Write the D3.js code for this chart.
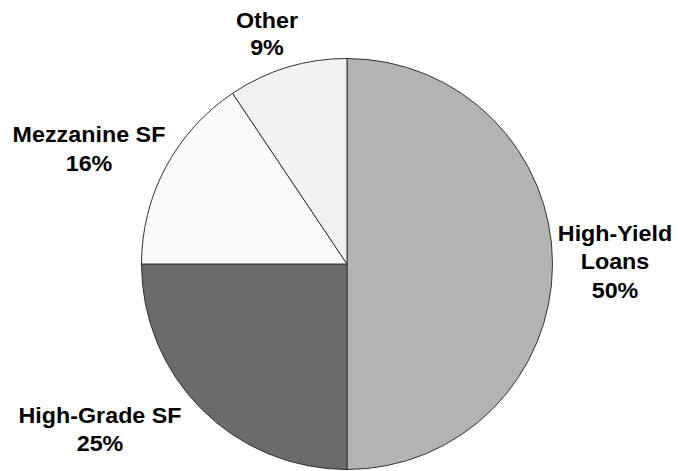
<!DOCTYPE html>
<html>
<head>
<meta charset="utf-8">
<script src="https://cdn.jsdelivr.net/npm/d3@7"></script>
<style>
  html, body { margin: 0; padding: 0; background: #ffffff; }
  svg { display: block; }
  text { font-family: "Liberation Sans", Arial, Helvetica, sans-serif; font-weight: bold; fill: #000; }
</style>
</head>
<body>
<svg id="chart" width="678" height="471"></svg>
<script>
// Data
const categories = ["High-Yield Loans", "High-Grade SF", "Mezzanine SF", "Other"];
const values = [50, 25, 15.6, 9.4];
const labelLines = [["High-Yield", "Loans", "50%"], ["High-Grade SF", "25%"], ["Mezzanine SF", "16%"], ["Other", "9%"]];
const colors = ["#b3b3b3", "#6b6b6b", "#fafafa", "#f2f2f2"];

const W = 678, H = 471;
const cx = 347, cy = 264, R = 205.5;

// label layout: center x and first-line baseline y
const labelLayout = [
  { x: 615, y: 241 },
  { x: 100, y: 423 },
  { x: 89, y: 142 },
  { x: 267, y: 28 }
];

const svg = d3.select("#chart");
const g = svg.append("g").attr("transform", `translate(${cx},${cy})`);

const pie = d3.pie().sort(null).value(d => d)(values);
const arc = d3.arc().innerRadius(0).outerRadius(R);

g.selectAll("path.slice")
  .data(pie)
  .join("path")
  .attr("class", "slice")
  .attr("d", arc)
  .attr("fill", (d, i) => colors[i])
  .attr("stroke", "#333")
  .attr("stroke-width", 1)
  .attr("stroke-linejoin", "round");

const lineH = [28.5, 28.5, 29, 27];
const lg = svg.selectAll("g.label")
  .data(labelLines)
  .join("g")
  .attr("class", "label")
  .attr("transform", (d, i) => `translate(${labelLayout[i].x},${labelLayout[i].y}) scale(1.06,1)`);

lg.each(function(lines, i) {
  const t = d3.select(this).append("text")
    .attr("text-anchor", "middle")
    .attr("font-size", 22);
  lines.forEach((s, j) => {
    t.append("tspan").attr("x", 0).attr("y", j * lineH[i]).text(s);
  });
});
</script>
</body>
</html>
